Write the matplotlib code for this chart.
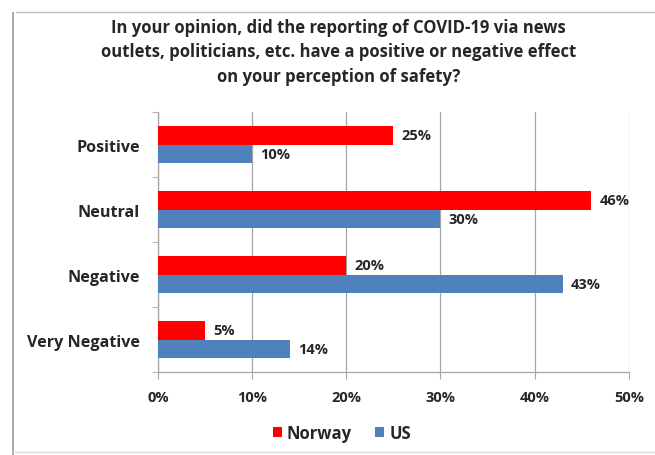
import matplotlib
matplotlib.use("Agg")
import matplotlib.pyplot as plt
from matplotlib.lines import Line2D
import numpy as np

plt.rcParams['font.family'] = ['Open Sans', 'DejaVu Sans']
plt.rcParams['font.weight'] = 'bold'

# data
categories = ['Positive', 'Neutral', 'Negative', 'Very Negative']
norway = [25, 46, 20, 5]
us = [10, 30, 43, 14]
series_names = ['Norway', 'US']
x_ticks = [0, 10, 20, 30, 40, 50]
x_labels = ['0%', '10%', '20%', '30%', '40%', '50%']
title = ('In your opinion, did the reporting of COVID-19 via news\n'
         'outlets, politicians, etc. have a positive or negative effect\n'
         'on your perception of safety?')

red = '#FF0000'
blue = '#4F81BD'
grid_c = '#A6A6A6'
txt_c = '#262626'

fig = plt.figure(figsize=(6.55, 4.56), dpi=100)
ax = fig.add_axes([0.241, 0.182, 0.719, 0.570])

ypos = np.arange(len(categories))[::-1]
h = 0.28
b1 = ax.barh(ypos + h / 2, norway, height=h, color=red, label=series_names[0], zorder=3)
b2 = ax.barh(ypos - h / 2, us, height=h, color=blue, label=series_names[1], zorder=3)

for bars, vals in ((b1, norway), (b2, us)):
    for bar, v in zip(bars, vals):
        ax.annotate(f'{v}%', (bar.get_width(), bar.get_y() + bar.get_height() / 2),
                    xytext=(6, 0), textcoords='offset points', va='center', ha='left',
                    fontsize=10.5, fontweight='bold', color=txt_c)

ax.set_xlim(0, 50)
ax.set_ylim(-0.5, 3.5)
ax.set_xticks(x_ticks)
ax.set_xticklabels(x_labels, fontsize=10.5, fontweight='bold', color=txt_c)
ax.set_yticks(ypos)
ax.set_yticklabels(categories, fontsize=11.6, fontweight='bold', color=txt_c)
ax.set_yticks(np.arange(-0.5, 4.0, 1.0), minor=True)
ax.tick_params(axis='y', which='major', length=0, pad=13)
ax.tick_params(axis='y', which='minor', length=4, color=grid_c, direction='out')
ax.tick_params(axis='x', which='major', length=5, color=grid_c, direction='out', pad=8)

ax.grid(axis='x', color=grid_c, linewidth=0.9, zorder=0)
for s in ('top', 'right'):
    ax.spines[s].set_visible(False)
for s in ('left', 'bottom'):
    ax.spines[s].set_color(grid_c)
    ax.spines[s].set_linewidth(0.9)

fig.text(0.517, 0.958, title, ha='center', va='top', fontsize=12, fontweight='bold',
         color=txt_c, linespacing=1.45)

leg = fig.legend(handles=[b1, b2], loc='center', bbox_to_anchor=(0.522, 0.049), ncol=2,
                 frameon=False, fontsize=12, handlelength=0.55, handleheight=0.55,
                 handletextpad=0.3, columnspacing=1.4)
for t in leg.get_texts():
    t.set_fontweight('bold')
    t.set_color(txt_c)

# outer frame lines
fig.add_artist(Line2D([13 / 655, 13 / 655], [0, 1 - 14 / 456], transform=fig.transFigure,
                      color='#9A9A9A', linewidth=1.2))
fig.add_artist(Line2D([16 / 655, 1], [1 - 13 / 456, 1 - 13 / 456], transform=fig.transFigure,
                      color='#BDBDBD', linewidth=1.0))
fig.add_artist(Line2D([13 / 655, 1], [3 / 456, 3 / 456], transform=fig.transFigure,
                      color='#DDDDDD', linewidth=1.0))

fig.savefig('out.png', dpi=100)
